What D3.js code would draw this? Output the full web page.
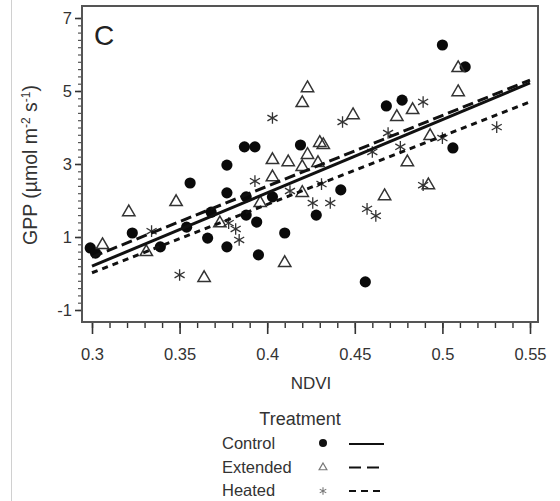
<!DOCTYPE html>
<html>
<head>
<meta charset="utf-8">
<script src="https://cdn.jsdelivr.net/npm/d3@7"></script>
<style>
  body { margin: 0; background: #fff; }
  svg { font-family: 'Liberation Sans', Arial, sans-serif; }
</style>
</head>
<body>
<div id="chart"></div>
<script>
// NDVI / GPP readings per treatment
let controlNdvi = [0.299, 0.302, 0.323, 0.339, 0.354, 0.356, 0.366, 0.368, 0.377, 0.377, 0.377, 0.387, 0.393, 0.388, 0.388, 0.394, 0.395, 0.403, 0.410, 0.419, 0.428, 0.442, 0.456, 0.468, 0.477, 0.500, 0.513, 0.506]
let controlGpp = [0.70, 0.56, 1.11, 0.73, 1.27, 2.48, 0.97, 1.68, 2.97, 2.21, 0.73, 3.47, 3.47, 2.10, 1.60, 1.41, 0.51, 2.10, 1.11, 3.52, 1.60, 2.29, -0.23, 4.59, 4.75, 6.26, 5.66, 3.44]

let extendedNdvi = [0.306, 0.321, 0.331, 0.348, 0.364, 0.373, 0.396, 0.403, 0.403, 0.412, 0.420, 0.423, 0.423, 0.430, 0.432, 0.429, 0.420, 0.420, 0.410, 0.449, 0.474, 0.483, 0.493, 0.480, 0.467, 0.492, 0.509, 0.509]
let extendedGpp = [0.78, 1.68, 0.59, 1.96, -0.12, 1.38, 1.93, 3.11, 2.64, 3.05, 4.67, 5.08, 3.25, 3.58, 3.52, 3.03, 2.92, 2.21, 0.29, 4.34, 4.29, 4.48, 3.77, 3.05, 2.12, 2.42, 4.97, 5.63]

let heatedNdvi = [0.334, 0.350, 0.378, 0.382, 0.384, 0.393, 0.403, 0.413, 0.426, 0.436, 0.431, 0.443, 0.457, 0.462, 0.460, 0.469, 0.476, 0.489, 0.489, 0.500, 0.531]
let heatedGpp = [1.16, -0.04, 1.38, 1.22, 0.92, 2.53, 4.26, 2.26, 1.93, 1.93, 2.45, 4.15, 1.77, 1.58, 3.33, 3.85, 3.47, 4.70, 2.42, 3.71, 4.01]

// fitted lines: GPP at NDVI 0.3 and 0.55
let fitNdvi = [0.3, 0.55]
let controlFit = [0.2, 5.22]
let extendedFit = [0.45, 5.3]
let heatedFit = [0.02, 4.7]

let xTicks = [0.3, 0.35, 0.4, 0.45, 0.5, 0.55]
let yTicks = [-1, 1, 3, 5, 7]

let svg = d3.select('#chart').append('svg')
  .attr('width', 560)
  .attr('height', 501)

// faint page edge on the left
svg.append('line')
  .attr('x1', 11.5).attr('x2', 11.5)
  .attr('y1', 0).attr('y2', 501)
  .attr('stroke', '#d0d0d0')

let box = { left: 82, right: 538, top: 6, bottom: 322 }

let x = d3.scaleLinear().domain([0.3, 0.55]).range([92, 530])
let y = d3.scaleLinear().domain([-1, 7]).range([310, 18])

let toPoints = (xs, ys) => xs.map((v, i) => ({ x: v, y: ys[i] }))

// minor ticks
svg.append('g')
  .attr('transform', `translate(0,${box.bottom})`)
  .call(d3.axisBottom(x).tickValues(d3.range(30, 56).map(d => d / 100)).tickSize(6).tickFormat(''))
  .call(g => g.select('.domain').remove())
  .call(g => g.selectAll('line').attr('stroke', '#333').attr('stroke-width', 1.4))

svg.append('g')
  .attr('transform', `translate(0,${box.bottom})`)
  .call(d3.axisBottom(x).tickValues(xTicks).tickSize(12).tickPadding(14).tickFormat(d => d3.format('')(d)))
  .call(g => g.select('.domain').remove())
  .call(g => g.selectAll('line').attr('stroke', '#333').attr('stroke-width', 1.6))
  .call(g => g.selectAll('text').attr('font-size', 16.5).attr('fill', '#333').attr('font-family', 'Liberation Sans, Arial'))

svg.append('g')
  .attr('transform', `translate(${box.left},0)`)
  .call(d3.axisLeft(y).tickValues(d3.range(-10, 71, 2).map(d => d / 10)).tickSize(4).tickFormat(''))
  .call(g => g.select('.domain').remove())
  .call(g => g.selectAll('line').attr('stroke', '#555').attr('stroke-width', 1.2))

svg.append('g')
  .attr('transform', `translate(${box.left},0)`)
  .call(d3.axisLeft(y).tickValues(yTicks).tickSize(7).tickPadding(3).tickFormat(d => d))
  .call(g => g.select('.domain').remove())
  .call(g => g.selectAll('line').attr('stroke', '#333').attr('stroke-width', 1.6))
  .call(g => g.selectAll('text').attr('font-size', 16.5).attr('fill', '#333').attr('font-family', 'Liberation Sans, Arial'))

// frame
svg.append('rect')
  .attr('x', box.left).attr('y', box.top)
  .attr('width', box.right - box.left).attr('height', box.bottom - box.top)
  .attr('fill', 'none')
  .attr('stroke', '#555')
  .attr('stroke-width', 2)

svg.append('text')
  .attr('x', 94).attr('y', 45)
  .attr('font-size', 28)
  .attr('fill', '#222')
  .text('C')

let triangle = d3.symbol().type(d3.symbolTriangle).size(66)
let asterisk = d3.symbol().type(d3.symbolAsterisk).size(95)

svg.append('g').selectAll('circle')
  .data(toPoints(controlNdvi, controlGpp))
  .enter().append('circle')
  .attr('cx', d => x(d.x))
  .attr('cy', d => y(d.y))
  .attr('r', 5.6)
  .attr('fill', '#0a0a0a')

svg.append('g').selectAll('path')
  .data(toPoints(extendedNdvi, extendedGpp))
  .enter().append('path')
  .attr('d', triangle)
  .attr('transform', d => `translate(${x(d.x)},${y(d.y)})`)
  .attr('fill', 'none')
  .attr('stroke', '#333')
  .attr('stroke-width', 1.5)

svg.append('g').selectAll('path')
  .data(toPoints(heatedNdvi, heatedGpp))
  .enter().append('path')
  .attr('d', asterisk)
  .attr('transform', d => `translate(${x(d.x)},${y(d.y)})`)
  .attr('fill', 'none')
  .attr('stroke', '#333')
  .attr('stroke-width', 1.3)

let fits = [
  { ys: controlFit, dash: null },
  { ys: extendedFit, dash: '11,5' },
  { ys: heatedFit, dash: '6,5' }
]

let line = d3.line().x(d => x(d.x)).y(d => y(d.y))

svg.append('g').selectAll('path')
  .data(fits)
  .enter().append('path')
  .attr('d', d => line(toPoints(fitNdvi, d.ys)))
  .attr('fill', 'none')
  .attr('stroke', '#111')
  .attr('stroke-width', 3)
  .attr('stroke-dasharray', d => d.dash)

// axis titles
svg.append('text')
  .attr('x', 311).attr('y', 389)
  .attr('text-anchor', 'middle')
  .attr('font-size', 17)
  .attr('fill', '#333')
  .text('NDVI')

let yTitle = svg.append('text')
  .attr('transform', 'translate(37,165) rotate(-90)')
  .attr('text-anchor', 'middle')
  .attr('font-size', 19.5)
  .attr('fill', '#333')
yTitle.append('tspan').text('GPP (µmol m')
yTitle.append('tspan').attr('dy', -7).attr('font-size', 12).text('-2')
yTitle.append('tspan').attr('dy', 7).text(' s')
yTitle.append('tspan').attr('dy', -7).attr('font-size', 12).text('-1')
yTitle.append('tspan').attr('dy', 7).text(')')

// legend
let treatments = ['Control', 'Extended', 'Heated']
let legendDash = [null, '12,6', '7,5']

svg.append('text')
  .attr('x', 300).attr('y', 425)
  .attr('text-anchor', 'middle')
  .attr('font-size', 18)
  .attr('fill', '#333')
  .text('Treatment')

let rows = svg.append('g').selectAll('g')
  .data(treatments)
  .enter().append('g')
  .attr('transform', (d, i) => `translate(0,${443 + i * 23.5})`)

rows.append('text')
  .attr('x', 222).attr('y', 6)
  .attr('font-size', 16.5)
  .attr('fill', '#333')
  .text(d => d)

rows.filter((d, i) => i === 0).append('circle')
  .attr('cx', 323).attr('cy', 0).attr('r', 4)
  .attr('fill', '#111')

rows.filter((d, i) => i === 1).append('path')
  .attr('d', d3.symbol().type(d3.symbolTriangle).size(26))
  .attr('transform', 'translate(323,1)')
  .attr('fill', 'none')
  .attr('stroke', '#777')
  .attr('stroke-width', 1.2)

rows.filter((d, i) => i === 2).append('path')
  .attr('d', d3.symbol().type(d3.symbolAsterisk).size(40))
  .attr('transform', 'translate(323,1)')
  .attr('fill', 'none')
  .attr('stroke', '#777')
  .attr('stroke-width', 1.1)

rows.append('line')
  .attr('x1', 349).attr('x2', 384)
  .attr('y1', 1).attr('y2', 1)
  .attr('stroke', '#111')
  .attr('stroke-width', 2)
  .attr('stroke-dasharray', (d, i) => legendDash[i])
</script>
</body>
</html>
